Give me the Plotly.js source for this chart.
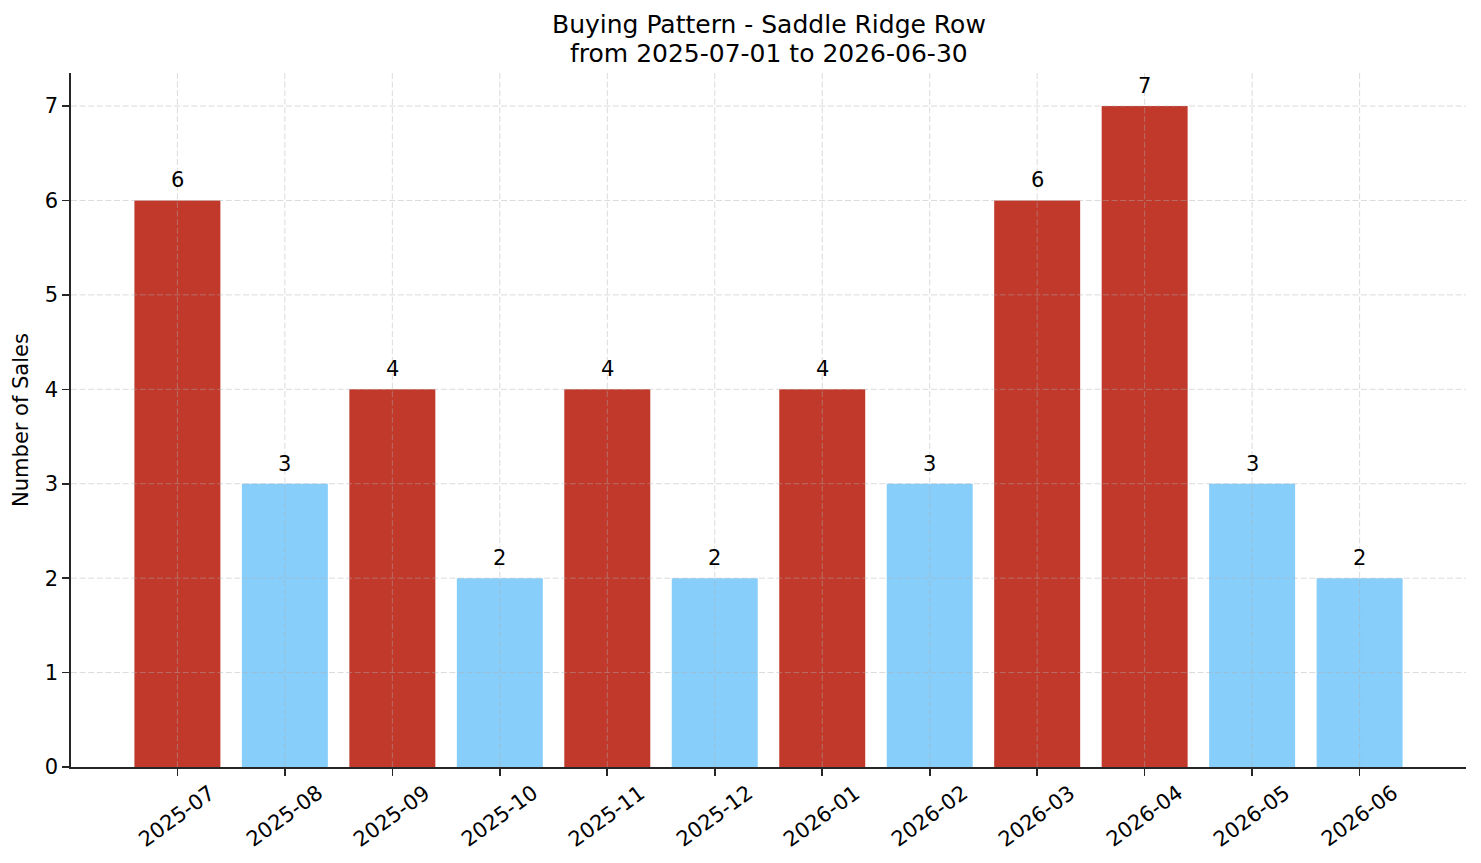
<!DOCTYPE html>
<html>
<head>
<meta charset="utf-8">
<script src="https://cdn.plot.ly/plotly-3.0.1.min.js"></script>
<style>
  html, body { margin: 0; padding: 0; background: #ffffff; }
  #chart { width: 1481px; height: 863px; }
</style>
</head>
<body>
<div id="chart"></div>
<script>
// Monthly sales counts for Saddle Ridge Row
const months = ['2025-07', '2025-08', '2025-09', '2025-10', '2025-11', '2025-12',
                '2026-01', '2026-02', '2026-03', '2026-04', '2026-05', '2026-06'];
const sales = [6, 3, 4, 2, 4, 2, 4, 3, 6, 7, 3, 2];
const yTicks = [0, 1, 2, 3, 4, 5, 6, 7];

const titleLines = ['Buying Pattern - Saddle Ridge Row', 'from 2025-07-01 to 2026-06-30'];
const yTitle = 'Number of Sales';

// Months above the average are highlighted in red, the rest in light blue
const HIGH = '#c0392b';
const LOW = '#87cefa';
const mean = sales.reduce((a, b) => a + b, 0) / sales.length;
const barColors = sales.map(v => (v > mean ? HIGH : LOW));

const FONT = 'DejaVu Sans, Liberation Sans, sans-serif';
const INK = '#262626';
const GRID = 'rgba(176,176,176,0.45)';
const TXT = 21;

const trace = {
  type: 'bar',
  x: months,
  y: sales,
  width: 0.8,
  marker: { color: barColors, line: { width: 0 } },
  hoverinfo: 'x+y'
};

// Dashed grid drawn over the bars
const gridLine = { color: GRID, width: 1.0, dash: '6px,2.6px' };
const shapes = [];
months.forEach(m => {
  shapes.push({
    type: 'line', layer: 'above', xref: 'x', yref: 'paper',
    x0: m, x1: m, y0: 0, y1: 1, line: gridLine
  });
});
yTicks.filter(t => t > 0).forEach(t => {
  shapes.push({
    type: 'line', layer: 'above', xref: 'paper', yref: 'y',
    x0: 0, x1: 1, y0: t, y1: t, line: gridLine
  });
});

const annotations = [];
// Value labels above each bar
months.forEach((m, i) => {
  annotations.push({
    xref: 'x', yref: 'y', x: m, y: sales[i],
    text: String(sales[i]), showarrow: false,
    xanchor: 'center', yanchor: 'bottom', yshift: 6,
    font: { family: FONT, size: TXT, color: '#000000' }
  });
});
// Rotated month labels centred under each tick
months.forEach(m => {
  annotations.push({
    xref: 'x', yref: 'paper', x: m, y: 0,
    text: m, showarrow: false, textangle: -36,
    xanchor: 'center', yanchor: 'top', yshift: -11,
    font: { family: FONT, size: TXT, color: '#000000' }
  });
});
// Two-line title
annotations.push({
  xref: 'paper', yref: 'paper', x: 0.5, y: 1.0692,
  text: titleLines[0], showarrow: false, xanchor: 'center', yanchor: 'middle',
  font: { family: FONT, size: 25, color: '#000000' }
});
annotations.push({
  xref: 'paper', yref: 'paper', x: 0.5, y: 1.0288,
  text: titleLines[1], showarrow: false, xanchor: 'center', yanchor: 'middle',
  font: { family: FONT, size: 25, color: '#000000' }
});

const layout = {
  width: 1481,
  height: 863,
  margin: { l: 71, r: 15, t: 73, b: 96, pad: 0 },
  paper_bgcolor: '#ffffff',
  plot_bgcolor: '#ffffff',
  font: { family: FONT, size: TXT, color: '#000000' },
  showlegend: false,
  bargap: 0.2,
  xaxis: {
    type: 'category',
    range: [-0.99, months.length - 1 + 0.99],
    showgrid: false,
    zeroline: false,
    showline: true,
    linecolor: INK,
    linewidth: 1.6,
    ticks: 'outside',
    ticklen: 7,
    tickwidth: 1.6,
    tickcolor: INK,
    showticklabels: false,
    fixedrange: true
  },
  yaxis: {
    range: [0, 7.35],
    tickvals: yTicks,
    ticktext: yTicks.map(String),
    showgrid: false,
    zeroline: false,
    showline: true,
    linecolor: INK,
    linewidth: 1.6,
    ticks: 'outside',
    ticklen: 7,
    tickwidth: 1.6,
    tickcolor: INK,
    tickfont: { family: FONT, size: TXT, color: '#000000' },
    title: { text: yTitle, font: { family: FONT, size: TXT, color: '#000000' }, standoff: 10 },
    automargin: false,
    fixedrange: true
  },
  shapes: shapes,
  annotations: annotations
};

Plotly.newPlot('chart', [trace], layout, { displayModeBar: false, staticPlot: true });
</script>
</body>
</html>
